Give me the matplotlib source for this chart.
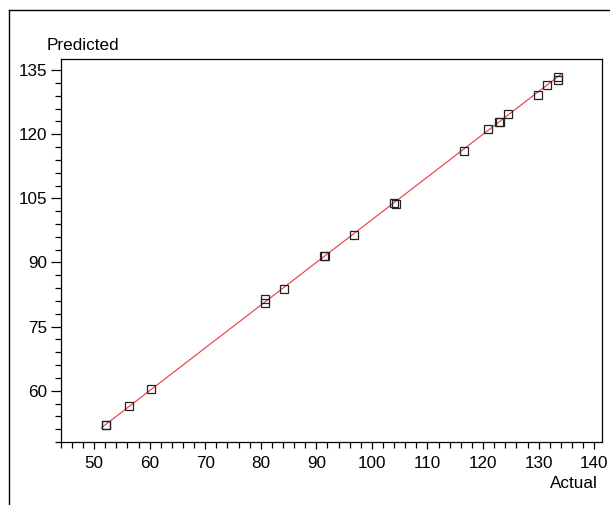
import matplotlib
matplotlib.use("Agg")
import matplotlib.pyplot as plt
from matplotlib.lines import Line2D
from matplotlib.ticker import MultipleLocator

plt.rcParams['font.family'] = ['Liberation Sans', 'DejaVu Sans']

actual = [52.1, 52.2, 56.3, 60.3, 80.85, 80.85, 84.1, 91.4, 91.5, 96.8,
          104.0, 104.3, 116.5, 120.8, 122.9, 123.0, 124.4, 129.8, 131.5,
          133.4, 133.4]
predicted = [52.0, 51.9, 56.5, 60.5, 81.4, 80.6, 83.8, 91.5, 91.4, 96.45,
             104.0, 103.7, 116.1, 121.2, 122.8, 122.9, 124.65, 129.2, 131.5,
             133.4, 132.7]
line_x = [51.3, 134.0]
line_y = [51.3, 134.0]
x_ticks = [50, 60, 70, 80, 90, 100, 110, 120, 130, 140]
y_ticks = [60, 75, 90, 105, 120, 135]

FS = 12.3

fig = plt.figure(figsize=(6.1, 5.05), dpi=100)
ax = fig.add_axes([0.0995, 0.1248, 0.9869 - 0.0995, 0.8832 - 0.1248])

ax.plot(line_x, line_y, color='#e8383d', lw=0.8, zorder=2)
ax.plot(actual, predicted, linestyle='none', marker='s', markersize=6.3,
        markerfacecolor='none', markeredgecolor='#222222', markeredgewidth=0.9,
        zorder=3)

ax.set_xlim(44, 141.4)
ax.set_ylim(48, 137.6)
ax.set_xticks(x_ticks)
ax.set_yticks(y_ticks)
ax.xaxis.set_minor_locator(MultipleLocator(2))
ax.yaxis.set_minor_locator(MultipleLocator(3))
for s in ax.spines.values():
    s.set_linewidth(0.9)
ax.tick_params(axis='both', which='major', labelsize=FS, width=0.9, color='black')
ax.tick_params(axis='y', which='major', length=7, pad=3)
ax.tick_params(axis='y', which='minor', length=4, width=0.9)
ax.tick_params(axis='x', which='major', length=5, pad=5)
ax.tick_params(axis='x', which='minor', length=4, width=0.9)

fig.text(47 / 610, 1 - 46 / 505, 'Predicted', fontsize=FS, ha='left', va='center')
fig.text(598 / 610, 1 - 483 / 505, 'Actual', fontsize=FS, ha='right', va='center')

fig.add_artist(Line2D([9 / 610, 1.0], [1 - 10 / 505, 1 - 10 / 505],
                      transform=fig.transFigure, color='black', lw=1.0))
fig.add_artist(Line2D([9 / 610, 9 / 610], [1 - 10 / 505, 0.0],
                      transform=fig.transFigure, color='black', lw=1.0))

fig.savefig('out.png', dpi=100)
